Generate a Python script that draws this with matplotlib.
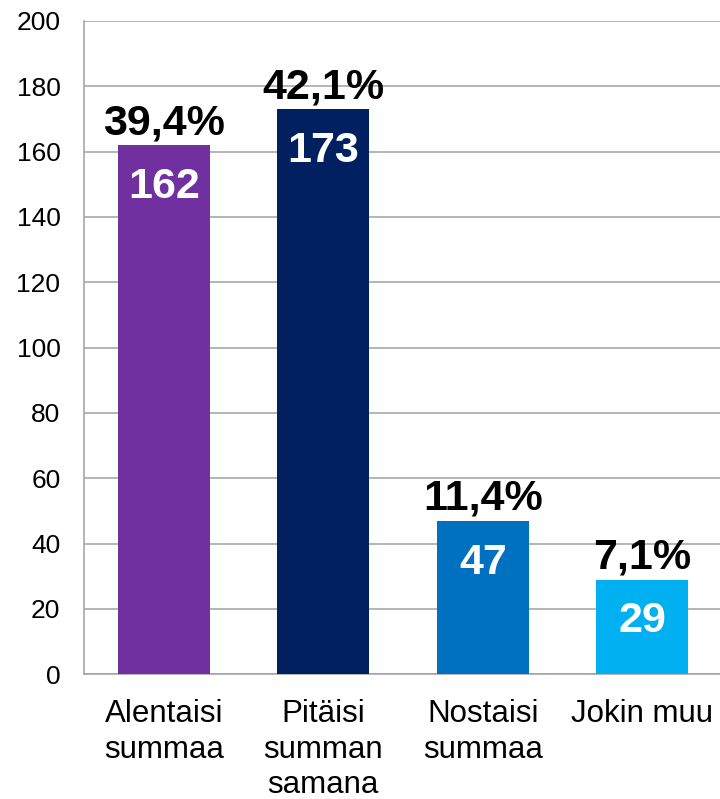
import numpy as np
import matplotlib.pyplot as plt

plt.rcParams['font.family'] = ['Liberation Sans', 'DejaVu Sans']

categories = ['Alentaisi\nsummaa', 'Pitäisi\nsumman\nsamana', 'Nostaisi\nsummaa', 'Jokin muu']
counts = [162, 173, 47, 29]
percents = ['39,4%', '42,1%', '11,4%', '7,1%']
colors = ['#7030A0', '#002060', '#0070C0', '#00B0F0']


fig = plt.figure(figsize=(7.2, 7.99), dpi=100)
ax = fig.add_axes([84/720, 1-674.3/799, 638/720, 653.3/799])

x = np.arange(len(categories))
bars = ax.bar(x, counts, width=0.574, color=colors, zorder=3)

ax.set_xlim(-0.5, 3.5)
ax.set_ylim(0, 200)
ax.set_yticks(np.arange(0, 201, 20))
ax.yaxis.grid(True, color='#A0A0A0', linewidth=1.1, zorder=0)
ax.set_axisbelow(True)

for s in ['top', 'right']:
    ax.spines[s].set_visible(False)
for s in ['left', 'bottom']:
    ax.spines[s].set_color('#A0A0A0')
    ax.spines[s].set_linewidth(1.1)

ax.set_xticks(x)
ax.set_xticklabels(categories, fontsize=22.5, linespacing=1.24)
ax.tick_params(axis='x', length=0, pad=18)
ax.tick_params(axis='y', length=0, pad=17, labelsize=19)

for i in range(len(counts)):
    ax.annotate(percents[i], (x[i], counts[i]), xytext=(0, 8),
                textcoords='offset points', ha='center', va='baseline',
                fontsize=31, fontweight='bold', color='black', zorder=4)
    ax.annotate(str(counts[i]), (x[i], counts[i]), xytext=(0, -38),
                textcoords='offset points', ha='center', va='baseline',
                fontsize=31, fontweight='bold', color='white', zorder=4)

plt.savefig('out.png', dpi=100)
